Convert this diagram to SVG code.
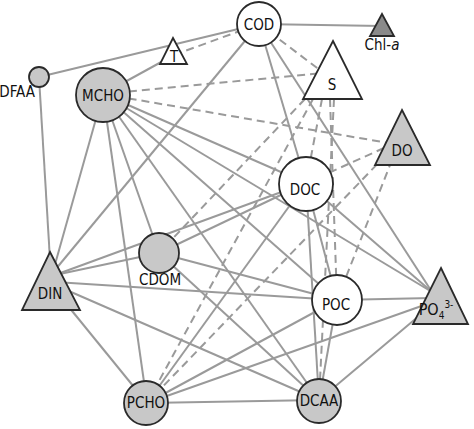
<svg xmlns="http://www.w3.org/2000/svg" width="474" height="429" viewBox="0 0 474 429">
<style>
.e{stroke:#9a9a9a;stroke-width:2;fill:none}
.d{stroke:#9a9a9a;stroke-width:2;fill:none;stroke-dasharray:8 5}
.n{stroke:#2a2a2a;stroke-width:1.8}
.w{fill:#ffffff}
.g{fill:#c8c8c8}
.k{fill:#8a8a8a}
text{font-family:"DejaVu Sans Condensed","DejaVu Sans",sans-serif;font-stretch:condensed;font-size:15px;fill:#111;text-anchor:middle}
</style>
<rect width="474" height="429" fill="#fff"/>
<g id="edges">
<line class="e" x1="39" y1="77" x2="259" y2="24"/>
<line class="e" x1="39" y1="77" x2="50" y2="260"/>
<line class="e" x1="103" y1="94" x2="174" y2="55"/>
<line class="e" x1="259" y1="24" x2="382" y2="26"/>
<line class="e" x1="259" y1="24" x2="55" y2="270"/>
<line class="e" x1="259" y1="24" x2="306" y2="183"/>
<line class="e" x1="259" y1="24" x2="432" y2="292"/>
<line class="e" x1="103" y1="94" x2="52" y2="275"/>
<line class="e" x1="103" y1="94" x2="147" y2="403"/>
<line class="e" x1="103" y1="94" x2="159" y2="253"/>
<line class="e" x1="103" y1="94" x2="319" y2="400"/>
<line class="e" x1="103" y1="94" x2="337" y2="300"/>
<line class="e" x1="103" y1="94" x2="306" y2="183"/>
<line class="e" x1="103" y1="94" x2="432" y2="292"/>
<line class="e" x1="55" y1="275" x2="159" y2="253"/>
<line class="e" x1="55" y1="275" x2="306" y2="183"/>
<line class="e" x1="55" y1="282" x2="337" y2="300"/>
<line class="e" x1="55" y1="285" x2="319" y2="400"/>
<line class="e" x1="55" y1="290" x2="147" y2="403"/>
<line class="e" x1="159" y1="253" x2="306" y2="183"/>
<line class="e" x1="159" y1="253" x2="337" y2="300"/>
<line class="e" x1="159" y1="253" x2="319" y2="400"/>
<line class="e" x1="306" y1="183" x2="147" y2="403"/>
<line class="e" x1="306" y1="183" x2="337" y2="300"/>
<line class="e" x1="306" y1="183" x2="319" y2="400"/>
<line class="e" x1="306" y1="183" x2="432" y2="292"/>
<line class="e" x1="337" y1="300" x2="432" y2="298"/>
<line class="e" x1="337" y1="300" x2="319" y2="400"/>
<line class="e" x1="337" y1="300" x2="147" y2="403"/>
<line class="e" x1="147" y1="403" x2="430" y2="303"/>
<line class="e" x1="147" y1="403" x2="319" y2="400"/>
<line class="e" x1="319" y1="400" x2="432" y2="305"/>
<line class="d" x1="174" y1="55" x2="259" y2="24"/>
<line class="d" x1="259" y1="24" x2="333" y2="80"/>
<line class="d" x1="103" y1="94" x2="333" y2="72"/>
<line class="d" x1="103" y1="94" x2="400" y2="145"/>
<line class="d" x1="305" y1="99" x2="159" y2="253"/>
<line class="d" x1="313" y1="99" x2="147" y2="403"/>
<line class="d" x1="322" y1="99" x2="306" y2="183"/>
<line class="d" x1="330" y1="99" x2="337" y2="300"/>
<line class="d" x1="334" y1="99" x2="319" y2="400"/>
<line class="d" x1="384" y1="148" x2="306" y2="183"/>
<line class="d" x1="392" y1="160" x2="337" y2="300"/>
<line class="d" x1="386" y1="155" x2="147" y2="403"/>
</g>
<g id="COD"><circle class="n w" cx="259" cy="24" r="22"/><text x="259" y="30">COD</text></g>
<g id="Chl-a"><polygon class="n k" points="382,14 394,36 370,36"/><text x="382" y="50">Chl-<tspan font-style="italic">a</tspan></text></g>
<g id="T"><polygon class="n w" points="173,38 187,64 160,64"/><text x="174" y="62">T</text></g>
<g id="S"><polygon class="n w" points="333,41 362,99 303,99"/><text x="332" y="90">S</text></g>
<g id="DFAA"><circle class="n g" cx="39" cy="77" r="10"/><text x="35" y="97" style="text-anchor:end">DFAA</text></g>
<g id="MCHO"><circle class="n g" cx="103" cy="95" r="27"/><text x="103" y="101">MCHO</text></g>
<g id="DO"><polygon class="n g" points="402,110 430,165 375,165"/><text x="402" y="156">DO</text></g>
<g id="DOC"><circle class="n w" cx="306" cy="184" r="27"/><text x="305" y="195">DOC</text></g>
<g id="CDOM"><circle class="n g" cx="159" cy="253" r="20"/><text x="160" y="285">CDOM</text></g>
<g id="DIN"><polygon class="n g" points="50,252 80,310 22,310"/><text x="50" y="299">DIN</text></g>
<g id="POC"><circle class="n w" cx="337" cy="300" r="25"/><text x="336" y="310">POC</text></g>
<g id="PO4"><polygon class="n g" points="441,268 468,324 413,324"/><text x="436" y="315" style="font-size:16px">PO<tspan font-size="10" dy="4">4</tspan><tspan font-size="10" dy="-11">3-</tspan></text></g>
<g id="PCHO"><circle class="n g" cx="146" cy="403" r="22"/><text x="146" y="408">PCHO</text></g>
<g id="DCAA"><circle class="n g" cx="319" cy="401" r="22"/><text x="319" y="406">DCAA</text></g>
</svg>
